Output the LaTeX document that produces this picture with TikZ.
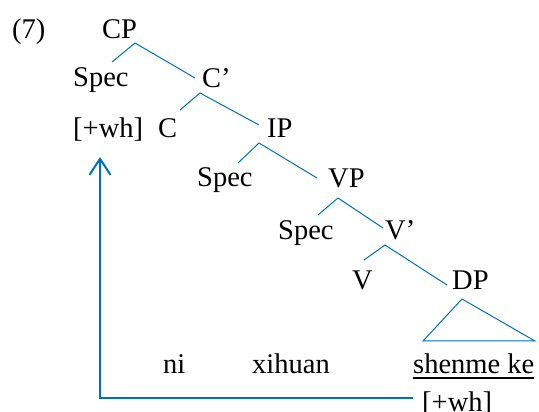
\documentclass[tikz,border=0pt]{standalone}
\usepackage{fontspec}
\setmainfont{Liberation Serif}
\usetikzlibrary{arrows.meta}
\definecolor{treeblue}{RGB}{0,112,192}

\begin{document}
\begin{tikzpicture}[x=1pt, y=1pt,
    word/.style={anchor=base west, inner sep=0pt, font=\fontsize{28.5}{34}\selectfont},
    branch/.style={draw=treeblue, line width=1pt},
    move/.style={draw=treeblue, line width=2pt, -{Straight Barb[length=16pt, width=21pt]}}]
        \useasboundingbox (0, 0) rectangle (539, 412);

        \node[word] (num) at (12, 373) {(7)};
        \node[word] (cp) at (102, 373) {CP};
        \node[word] (spec1) at (73, 325) {Spec};
        \node[word] (cbar) at (202, 324) {C’};
        \node[word] (wh1) at (73, 274) {[+wh]};
        \node[word] (c) at (158, 274) {C};
        \node[word] (ip) at (267, 274) {IP};
        \node[word] (spec2) at (197, 225) {Spec};
        \node[word] (vp) at (328, 224) {VP};
        \node[word] (spec3) at (278, 172) {Spec};
        \node[word] (vbar) at (385, 172) {V’};
        \node[word] (v) at (352, 122) {V};
        \node[word] (dp) at (452, 122) {DP};

        \node[word] (ni) at (163, 38) {ni};
        \node[word] (xihuan) at (252, 38) {xihuan};
        \node[word] (shenme) at (413, 38) {shenme ke};
        \node[word] (wh2) at (422, 0) {[+wh]};

        \draw[branch] ([shift={(39,25)}]spec1.base west) -- ([shift={(33,-4)}]cp.base west)
          -- ([shift={(-7,10)}]cbar.base west);
        \draw[branch] ([shift={(22,28)}]c.base west) -- ([shift={(-2,-5)}]cbar.base west)
          -- ([shift={(-8,13)}]ip.base west);
        \draw[branch] ([shift={(41,24)}]spec2.base west) -- ([shift={(-8,-5)}]ip.base west)
          -- ([shift={(-11,10)}]vp.base west);
        \draw[branch] ([shift={(40,25)}]spec3.base west) -- ([shift={(10,-10)}]vp.base west)
          -- ([shift={(-2,12)}]vbar.base west);
        \draw[branch] ([shift={(12,30)}]v.base west) -- ([shift={(0,-5)}]vbar.base west)
          -- ([shift={(-5,5)}]dp.base west);
        \draw[branch] ([shift={(10,-9)}]dp.base west) -- ([shift={(10,33)}]shenme.base west)
          -- ([shift={(122,33)}]shenme.base west) -- cycle;

        \draw[line width=2pt] ([yshift=-4]shenme.base west) -- ([yshift=-4]shenme.base east);
        \draw[move] ([shift={(-9,14)}]wh2.base west) -| ([shift={(27,-19)}]wh1.base west);
      \end{tikzpicture}
\end{document}
